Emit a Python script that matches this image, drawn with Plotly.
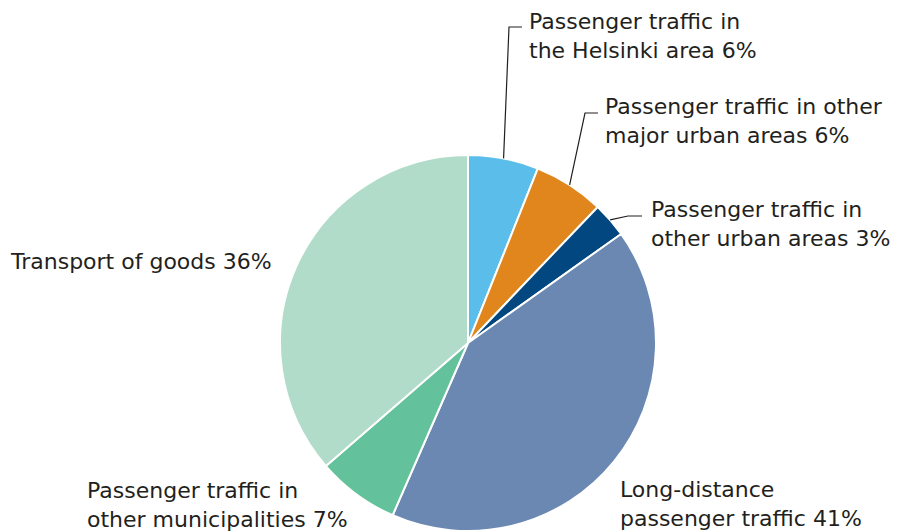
import math
import plotly.graph_objects as go

# Shares of transport emissions by segment (%), clockwise from 12 o'clock
segments = [
    "Passenger traffic in the Helsinki area",
    "Passenger traffic in other major urban areas",
    "Passenger traffic in other urban areas",
    "Long-distance passenger traffic",
    "Passenger traffic in other municipalities",
    "Transport of goods",
]
shares = [6, 6, 3, 41, 7, 36]
label_text = [
    "Passenger traffic in<br>the Helsinki area 6%",
    "Passenger traffic in other<br>major urban areas 6%",
    "Passenger traffic in<br>other urban areas 3%",
    "Long-distance<br>passenger traffic 41%",
    "Passenger traffic in<br>other municipalities 7%",
    "Transport of goods 36%",
]
colors = ["#5bbde9", "#e0861d", "#02477f", "#6a88b2", "#63c29b", "#b2dcca"]

W, H = 899, 532
CX, CY, R = 468, 343, 188  # pie centre and radius in pixels
TEXT = "#231f20"
FONT = "DejaVu Sans"
FONT_SIZE = 22


def px(x, y):
    return x / W, 1 - y / H


fig = go.Figure(go.Pie(
    labels=segments,
    values=shares,
    sort=False,
    direction="clockwise",
    rotation=0,
    marker=dict(colors=colors, line=dict(color="white", width=2)),
    textinfo="none",
    hoverinfo="label+percent",
    showlegend=False,
    domain=dict(x=[(CX - R) / W, (CX + R) / W], y=[(H - CY - R) / H, (H - CY + R) / H]),
))

# Label placement: left edge x, block centre y
label_pos = [
    (528, 36),
    (604, 121),
    (650, 224),
    (619, 504),
    (86, 505),
    (9, 262),
]
for txt, (lx, ly) in zip(label_text, label_pos):
    ax, ay = px(lx, ly)
    fig.add_annotation(
        x=ax, y=ay, xref="paper", yref="paper", text=txt, showarrow=False,
        xanchor="left", yanchor="middle", align="left", borderpad=0,
        font=dict(family=FONT, size=FONT_SIZE, color=TEXT),
    )

# Leader lines for the three small slices: from slice edge (mid-angle) to an elbow
total = sum(shares)
elbows = {0: ((509, 27), (522, 27)), 1: ((585, 113), (598, 113)), 2: ((628, 216), (642, 216))}
cum = 0
for i, v in enumerate(shares):
    mid = (cum + v / 2) / total * 2 * math.pi
    cum += v
    if i not in elbows:
        continue
    sx, sy = CX + R * math.sin(mid), CY - R * math.cos(mid)
    (ex, ey), (hx, hy) = elbows[i]
    pts = [px(sx, sy), px(ex, ey), px(hx, hy)]
    path = "M {} {} L {} {} L {} {}".format(*[c for p in pts for c in p])
    fig.add_shape(type="path", path=path, xref="paper", yref="paper",
                  line=dict(color=TEXT, width=1.2))

fig.update_layout(
    width=W, height=H,
    margin=dict(l=0, r=0, t=0, b=0),
    paper_bgcolor="white",
    plot_bgcolor="white",
    font=dict(family=FONT, color=TEXT),
)

fig.write_html("out.html")
